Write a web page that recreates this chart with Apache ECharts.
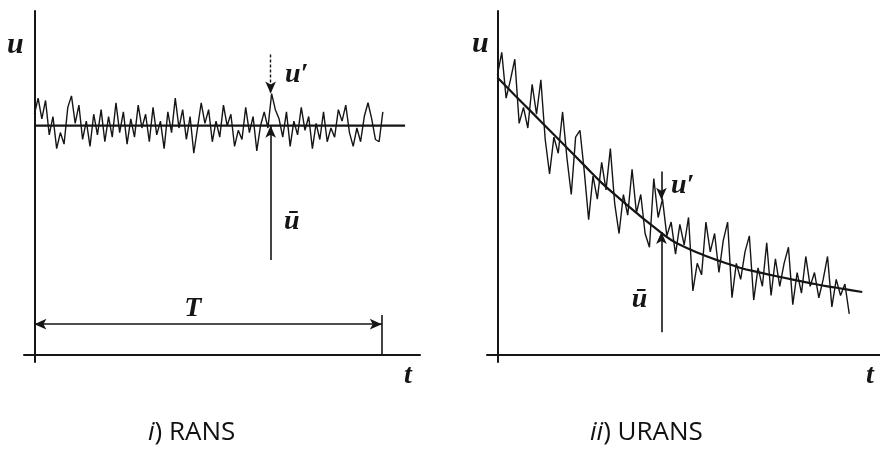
<!DOCTYPE html>
<html>
<head>
<meta charset="utf-8">
<script src="https://cdn.jsdelivr.net/npm/echarts@6/dist/echarts.min.js"></script>
<style>html,body{margin:0;padding:0;background:#fff}#c{width:880px;height:451px}</style>
</head>
<body>
<div id="c"></div>
<script>
// ---- data ----
const leftStep = 0.1067;            // time step between plotted samples (RANS)
const leftSignal = [1.05,1.12,1.03,1.11,0.96,1.04,0.90,0.97,0.92,1.08,1.13,1.01,1.09,0.94,1.02,0.91,1.05,0.96,1.07,0.93,
  1.04,0.95,1.10,0.97,1.06,0.92,1.03,0.95,1.09,0.99,1.05,0.93,1.08,0.96,1.02,0.90,1.06,0.97,1.12,0.99,
  1.07,0.94,1.04,0.88,0.99,1.10,1.01,1.07,0.93,1.02,0.95,1.09,1.00,1.05,0.91,0.98,0.94,1.08,0.97,1.04,
  0.89,1.00,1.06,0.99,1.14,1.07,1.03,0.95,1.06,0.91,1.02,0.96,1.08,0.98,1.04,0.90,1.01,0.94,1.06,0.93,
  0.99,0.95,1.07,1.02,1.09,0.97,0.91,0.99,0.93,1.04,1.10,1.03,0.94,0.93,1.06];
const leftMean = 1.0;
const leftMeanEnd = 10.67;
const periodT = 10;

const rightStep = 0.125;            // time step between plotted samples (URANS)
const rightSignal = [1.22,1.32,1.12,1.20,1.29,1.01,1.08,0.99,1.18,1.05,1.20,0.94,0.79,0.95,0.88,1.06,0.86,0.70,0.95,0.98,
  0.80,0.59,0.78,0.68,0.84,0.72,0.90,0.66,0.53,0.70,0.61,0.81,0.62,0.70,0.53,0.47,0.77,0.60,0.68,0.52,
  0.58,0.44,0.57,0.48,0.60,0.28,0.40,0.35,0.58,0.45,0.53,0.36,0.50,0.58,0.25,0.40,0.33,0.45,0.52,0.24,
  0.38,0.30,0.49,0.26,0.42,0.30,0.40,0.47,0.22,0.36,0.27,0.43,0.30,0.36,0.25,0.33,0.43,0.21,0.33,0.26,
  0.31,0.18];
const trendT = [0,0.5,1,1.5,2,2.5,3,3.5,4,4.5,5,5.5,6,6.5,7,7.5,8,8.5,9,9.5,10,10.5];
const trendU = [1.210,1.133,1.057,0.980,0.904,0.827,0.751,0.684,0.620,0.559,0.502,0.464,0.432,0.405,0.380,0.362,0.345,0.329,0.314,0.300,0.288,0.275];

// annotation positions (data units)
const leftArrowT = 6.8, leftPeakU = 1.14, leftArrowTopU = 1.31, leftBarBottomU = 0.415;
const rightArrowT = 4.72, rightPeakU = 0.677, rightArrowTopU = 0.80, rightBarBottomU = 0.10, rightMeanAtArrow = 0.537;

// ---- build ----
const ink = '#151515';
const leftData = leftSignal.map((u, i) => [i * leftStep, u]);
const rightData = rightSignal.map((u, i) => [i * rightStep, u]);
const trendData = trendT.map((t, i) => [t, trendU[i]]);

const serifLbl = {show:true, position:'inside', formatter:'{b}', color:ink, opacity:1,
  fontFamily:'Liberation Serif', fontStyle:'italic', fontWeight:'bold', fontSize:28};

function axisPair(idx) {
  return {
    x: {type:'value', gridIndex:idx, min:-0.3, max: idx===0 ? 11.1 : 11.01,
        axisLine:{show:true, onZero:true, lineStyle:{color:ink, width:2}},
        axisTick:{show:false}, axisLabel:{show:false}, splitLine:{show:false}},
    y: {type:'value', gridIndex:idx, min:-0.03, max:1.5,
        axisLine:{show:true, onZero:true, lineStyle:{color:ink, width:2}},
        axisTick:{show:false}, axisLabel:{show:false}, splitLine:{show:false}}
  };
}
const a0 = axisPair(0), a1 = axisPair(1);

function arrows(items) {
  return {silent:true, animation:false, symbolSize:[8,12], label:{show:false},
    lineStyle:{color:ink, width:1.6, type:'solid'}, data: items};
}

const option = {
  animation:false,
  backgroundColor:'#ffffff',
  grid:[{left:24, top:11, width:396, height:351},
        {left:487, top:11, width:393, height:351}],
  xAxis:[a0.x, a1.x],
  yAxis:[a0.y, a1.y],
  series:[
    {type:'line', xAxisIndex:0, yAxisIndex:0, data:leftData, showSymbol:false, symbol:'none',
     lineStyle:{color:ink, width:1.4}, z:3},
    {type:'line', xAxisIndex:0, yAxisIndex:0, data:[[0,leftMean],[leftMeanEnd,leftMean]], symbol:'none',
     lineStyle:{color:ink, width:2.2}, z:4,
     markLine: arrows([
       [{coord:[leftArrowT,leftArrowTopU], symbol:'none', lineStyle:{type:[3,2], width:1.4}},{coord:[leftArrowT,leftPeakU], symbol:'arrow'}],
       [{coord:[leftArrowT,leftBarBottomU], symbol:'none'},{coord:[leftArrowT,leftMean], symbol:'arrow'}],
       [{coord:[0,0.135], symbol:'arrow'},{coord:[periodT,0.135], symbol:'arrow'}],
       [{coord:[periodT,0.175], symbol:'none'},{coord:[periodT,0], symbol:'none'}]
     ])},
    {type:'scatter', xAxisIndex:0, yAxisIndex:0, symbolSize:0, silent:true, itemStyle:{opacity:1}, label:serifLbl,
     data:[{name:'u′', value:[7.55,1.22]}, {name:'ū', value:[7.41,0.58]}, {name:'T', value:[4.56,0.2]}]},

    {type:'line', xAxisIndex:1, yAxisIndex:1, data:rightData, showSymbol:false, symbol:'none',
     lineStyle:{color:ink, width:1.4}, z:3},
    {type:'line', xAxisIndex:1, yAxisIndex:1, data:trendData, smooth:true, symbol:'none',
     lineStyle:{color:ink, width:2.2}, z:4,
     markLine: arrows([
       [{coord:[rightArrowT,rightArrowTopU], symbol:'none'},{coord:[rightArrowT,rightPeakU], symbol:'arrow'}],
       [{coord:[rightArrowT,rightBarBottomU], symbol:'none'},{coord:[rightArrowT,rightMeanAtArrow], symbol:'arrow'}]
     ])},
    {type:'scatter', xAxisIndex:1, yAxisIndex:1, symbolSize:0, silent:true, itemStyle:{opacity:1}, label:serifLbl,
     data:[{name:'u′', value:[5.33,0.74]}, {name:'ū', value:[4.09,0.24]}]}
  ],
  graphic:[
    {type:'text', left:7, top:30, style:{text:'u', fill:ink, font:'italic bold 30px "Liberation Serif"'}},
    {type:'text', left:472, top:29, style:{text:'u', fill:ink, font:'italic bold 30px "Liberation Serif"'}},
    {type:'text', left:404, top:362, style:{text:'t', fill:ink, font:'italic bold 28px "Liberation Serif"'}},
    {type:'text', left:866, top:362, style:{text:'t', fill:ink, font:'italic bold 28px "Liberation Serif"'}},
    {type:'text', left:148, top:420, style:{text:'{i|i}) RANS', fill:'#111', font:'26px "Open Sans"',
      rich:{i:{fontStyle:'italic', fontFamily:'Open Sans', fontSize:26, fill:'#111'}}}},
    {type:'text', left:590, top:420, style:{text:'{i|ii}) URANS', fill:'#111', font:'26px "Open Sans"',
      rich:{i:{fontStyle:'italic', fontFamily:'Open Sans', fontSize:26, fill:'#111'}}}}
  ]
};
echarts.init(document.getElementById('c'), null, {renderer:'canvas'}).setOption(option);
</script>
</body>
</html>
